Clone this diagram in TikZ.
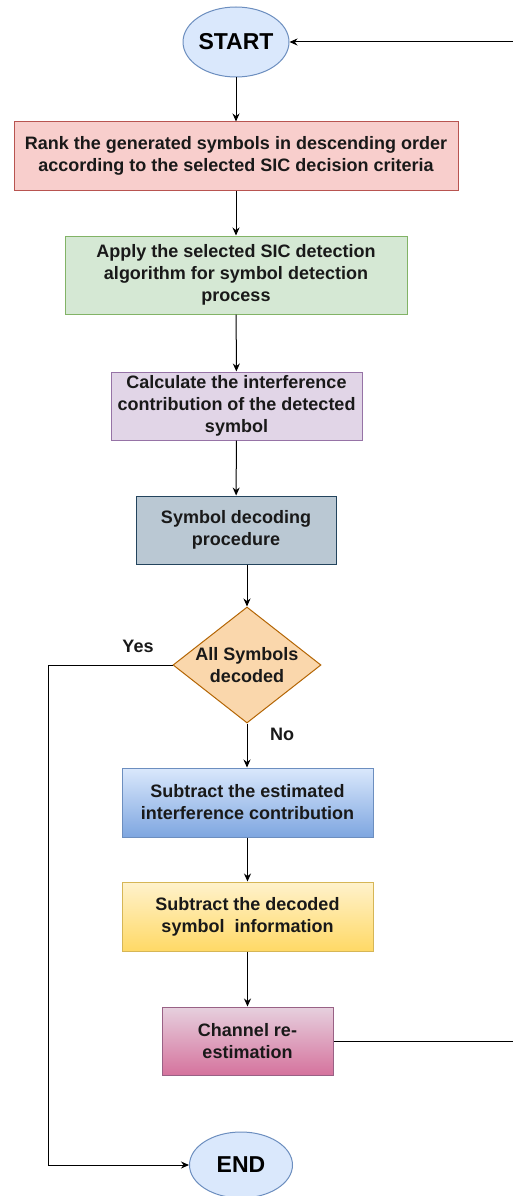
\documentclass[tikz,border=0pt]{standalone}
\usepackage{fontspec}
\setmainfont{Liberation Sans}
\usetikzlibrary{shapes.geometric,arrows.meta}

\definecolor{termfill}{HTML}{DAE8FC}
\definecolor{termline}{HTML}{6C8EBF}
\definecolor{rankfill}{HTML}{F8CECC}
\definecolor{rankline}{HTML}{B85450}
\definecolor{applyfill}{HTML}{D5E8D4}
\definecolor{applyline}{HTML}{82B366}
\definecolor{calcfill}{HTML}{E1D5E7}
\definecolor{calcline}{HTML}{9673A6}
\definecolor{decfill}{HTML}{BAC8D3}
\definecolor{decline}{HTML}{23445D}
\definecolor{diafill}{HTML}{FAD7AC}
\definecolor{dialine}{HTML}{B46504}
\definecolor{bluetop}{HTML}{DAE8FC}
\definecolor{bluebot}{HTML}{7EA6E0}
\definecolor{blueline}{HTML}{6C8EBF}
\definecolor{yeltop}{HTML}{FFF2CC}
\definecolor{yelbot}{HTML}{FFD966}
\definecolor{yelline}{HTML}{D6B656}
\definecolor{pinktop}{HTML}{E6D0DE}
\definecolor{pinkbot}{HTML}{D5739D}
\definecolor{pinkline}{HTML}{996185}

\begin{document}
\begin{tikzpicture}[x=1pt,y=-1pt,
  txt/.style={font=\fontsize{18}{22}\selectfont\bfseries, align=center, text=black!90},
  stepbox/.style={txt, rectangle, line width=1pt, inner sep=0pt},
  term/.style={ellipse, draw=termline, fill=termfill, line width=1pt, inner sep=0pt,
    font=\fontsize{23}{26}\selectfont\bfseries},
  flow/.style={line width=1pt, -{Stealth[length=8pt,width=7pt]}},
  lbl/.style={font=\fontsize{18}{20}\selectfont\bfseries, text=black!90}]

\useasboundingbox (0,0) rectangle (513,1196);
\fill[white] (0,0) rectangle (513,1196);

% terminals
\node[term, minimum width=103pt, minimum height=70pt] (start) at (236,42) {START};
\node[term, minimum width=103pt, minimum height=66pt] (end) at (241,1165) {END};

% process steps
\node[stepbox, fill=rankfill, draw=rankline, minimum width=444pt, minimum height=68pt]
  (rank) at (236,156) {Rank the generated symbols in descending order\\according to the selected SIC decision criteria};
\node[stepbox, fill=applyfill, draw=applyline, minimum width=342pt, minimum height=78pt]
  (apply) at (236,275) {Apply the selected SIC detection\\algorithm for symbol detection\\process};
\node[stepbox, fill=calcfill, draw=calcline, minimum width=251pt, minimum height=68pt]
  (calc) at (236.5,406) {Calculate the interference\\contribution of the detected\\symbol};
\node[stepbox, fill=decfill, draw=decline, minimum width=200pt, minimum height=68pt]
  (decode) at (236,530) {Symbol decoding\\procedure};

% decision
\node[diamond, draw=dialine, fill=diafill, line width=1pt, inner sep=0pt,
  minimum width=148pt, minimum height=116pt] (dia) at (247,665) {};
\node[txt] (diatext) at (dia.center) {All Symbols\\decoded};

% cancellation steps
\node[stepbox, top color=bluetop, bottom color=bluebot, draw=blueline,
  minimum width=251pt, minimum height=69pt]
  (subest) at (247.5,802.5) {Subtract the estimated\\interference contribution};
\node[stepbox, top color=yeltop, bottom color=yelbot, draw=yelline,
  minimum width=251pt, minimum height=69pt]
  (subdec) at (247.5,916.5) {Subtract the decoded\\symbol\ \ information};
\node[stepbox, top color=pinktop, bottom color=pinkbot, draw=pinkline,
  minimum width=171pt, minimum height=68pt]
  (chan) at (247.5,1041) {Channel re-\\estimation};

% branch labels
\node[lbl] (yes) at (138,646) {Yes};
\node[lbl] (no) at (282,734) {No};

% rails for the loops
\coordinate (lrail) at (48,0);
\coordinate (rrail) at (514,0);

% connectors
\draw[flow] (start) -- (rank);
\draw[flow] (rank) -- (apply);
\draw[flow] (apply) -- (calc);
\draw[flow] (calc) -- (decode);
\draw[flow] (decode.south -| dia.north) -- (dia.north);
\draw[flow] (dia.south) -- (subest.north -| dia.south);
\draw[flow] (subest) -- (subdec);
\draw[flow] (subdec) -- (chan);
\draw[flow] (dia.west) -- (dia.west -| lrail) |- (end.west);
\draw[flow] (chan.east) -- (chan.east -| rrail) |- (start.east);
\end{tikzpicture}
\end{document}
